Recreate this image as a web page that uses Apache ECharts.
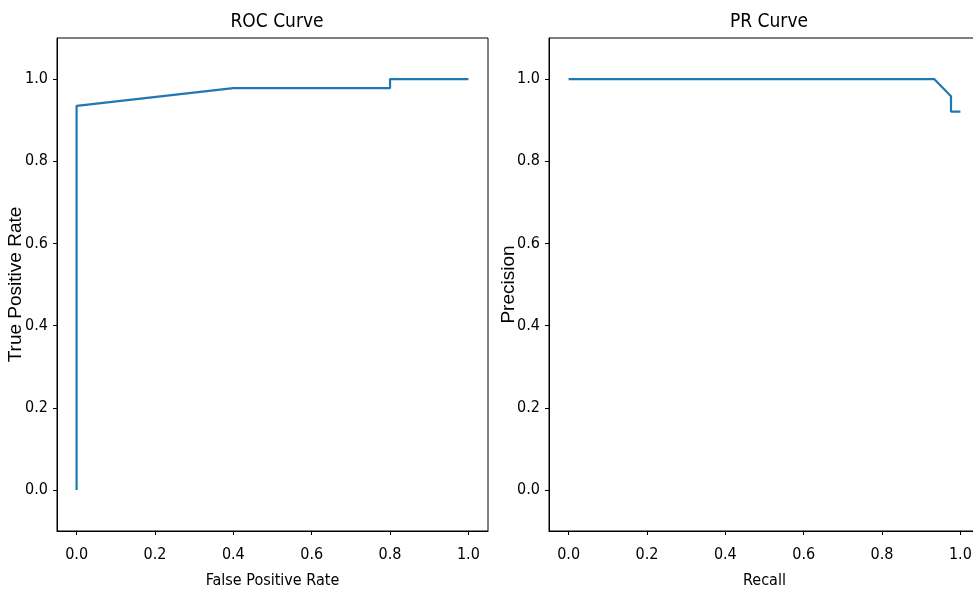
<!DOCTYPE html>
<html>
<head>
<meta charset="utf-8">
<title>ROC / PR</title>
<script src="https://cdn.jsdelivr.net/npm/echarts@6/dist/echarts.min.js"></script>
<style>
    html, body { margin: 0; padding: 0; background: #fff; }
    #main { width: 973px; height: 591px; }
</style>
</head>
<body>
<div id="main"></div>
<script>
// ROC 曲线数据
var rocFpr = [0, 0, 0.4, 0.8, 0.8, 1.0];
var rocTpr = [0, 0.935, 0.978, 0.978, 1.0, 1.0];

// PR 曲线数据
var prRecall = [0, 0.933, 0.976, 0.976, 1.0];
var prPrecision = [1.0, 1.0, 0.958, 0.921, 0.921];

// 刻度
var tickValues = [0, 0.2, 0.4, 0.6, 0.8, 1.0];

var titles = ['ROC Curve', 'PR Curve'];
var xNames = ['False Positive Rate', 'Recall'];
var yNames = ['True Positive Rate', 'Precision'];

var narrow = '"Liberation Sans Narrow", "DejaVu Sans Condensed", sans-serif';
var wide = '"Liberation Sans", Arial, sans-serif';

function pairs(xs, ys) {
    var out = [];
    for (var i = 0; i < xs.length; i++) {
        out.push([xs[i], ys[i]]);
    }
    return out;
}

function makeAxis(name, gridIndex, nameGap, isX) {
    return {
        type: 'value',
        gridIndex: gridIndex,
        min: isX ? -0.05 : -0.1,
        max: isX ? 1.05 : 1.1,
        name: name,
        nameLocation: 'middle',
        nameGap: nameGap,
        nameMoveOverlap: false,
        nameTextStyle: {
            color: '#000',
            fontSize: isX ? 16 : 19,
            fontFamily: isX ? narrow : wide
        },
        axisLine: { show: true, onZero: false, lineStyle: { color: '#000', width: 1 } },
        axisTick: {
            show: true,
            length: 4,
            customValues: tickValues,
            lineStyle: { color: '#000', width: 1 }
        },
        axisLabel: {
            customValues: tickValues,
            margin: isX ? 16 : 9,
            color: '#000',
            fontSize: 16,
            fontFamily: narrow,
            formatter: function (v) { return v.toFixed(1); }
        },
        splitLine: { show: false }
    };
}

var myChart = echarts.init(document.getElementById('main'), null, { renderer: 'canvas' });

var option = {
    backgroundColor: '#fff',
    animation: false,
    title: [
        {
            text: titles[0], left: 272, top: 8, textAlign: 'center',
            textStyle: { color: '#000', fontSize: 19, fontWeight: 'normal', fontFamily: narrow }
        },
        {
            text: titles[1], left: 764, top: 8, textAlign: 'center',
            textStyle: { color: '#000', fontSize: 19, fontWeight: 'normal', fontFamily: narrow }
        }
    ],
    grid: [
        { left: 57, top: 38, width: 431, height: 493, outerBoundsMode: 'none', containLabel: false,
          show: true, borderColor: '#000', borderWidth: 1 },
        { left: 549, top: 38, width: 431, height: 493, outerBoundsMode: 'none', containLabel: false,
          show: true, borderColor: '#000', borderWidth: 1 }
    ],
    xAxis: [
        makeAxis(xNames[0], 0, 42, true),
        makeAxis(xNames[1], 1, 42, true)
    ],
    yAxis: [
        makeAxis(yNames[0], 0, 32, false),
        makeAxis(yNames[1], 1, 31, false)
    ],
    series: [
        {
            name: 'ROC',
            type: 'line',
            xAxisIndex: 0,
            yAxisIndex: 0,
            showSymbol: false,
            lineStyle: { color: '#1f77b4', width: 2.2 },
            itemStyle: { color: '#1f77b4' },
            data: pairs(rocFpr, rocTpr)
        },
        {
            name: 'PR',
            type: 'line',
            xAxisIndex: 1,
            yAxisIndex: 1,
            showSymbol: false,
            lineStyle: { color: '#1f77b4', width: 2.2 },
            itemStyle: { color: '#1f77b4' },
            data: pairs(prRecall, prPrecision)
        }
    ]
};

myChart.setOption(option);
</script>
</body>
</html>
